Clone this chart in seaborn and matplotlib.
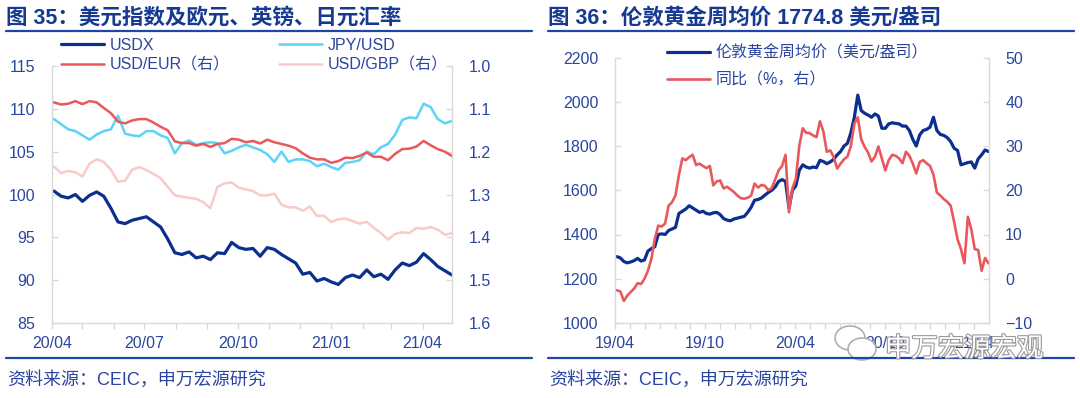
import numpy as np
import pandas as pd
import matplotlib
matplotlib.use("Agg")
import matplotlib.pyplot as plt
import matplotlib.patheffects as pe
from matplotlib.lines import Line2D
from matplotlib.patches import Ellipse
import seaborn as sns

# ---------------- data ----------------
fx_weeks = pd.date_range("2020-04-03", periods=57, freq="7D")
usdx = [100.4, 99.8, 99.6, 100.0, 99.2, 99.9, 100.3, 99.8, 98.4, 96.8,
        96.6, 97.0, 97.2, 97.4, 96.8, 96.2, 94.8, 93.2, 93.0, 93.3,
        92.6, 92.8, 92.4, 93.2, 93.1, 94.4, 93.8, 93.6, 93.7, 92.8,
        93.8, 93.6, 93.0, 92.5, 92.0, 90.7, 90.9, 89.9, 90.2, 89.8,
        89.5, 90.3, 90.6, 90.3, 91.2, 90.4, 90.7, 90.1, 91.2, 92.0,
        91.7, 92.1, 93.1, 92.4, 91.6, 91.1, 90.6]
jpy_usd = [108.8, 108.2, 107.6, 107.4, 106.9, 106.4, 107.0, 107.4, 107.6, 109.2,
           107.1, 106.9, 106.8, 107.4, 107.4, 106.9, 106.6, 104.8, 106.0, 106.3,
           105.8, 106.0, 106.1, 106.0, 104.8, 105.1, 105.5, 105.8, 105.5, 105.2,
           104.7, 103.8, 105.0, 103.8, 104.1, 104.1, 103.9, 103.3, 103.6, 103.2,
           102.9, 103.7, 103.8, 104.0, 105.0, 104.7, 105.5, 105.9, 107.0, 108.7,
           109.0, 108.9, 110.6, 110.2, 108.8, 108.3, 108.6]
usd_eur = [1.085, 1.090, 1.088, 1.082, 1.089, 1.082, 1.085, 1.098, 1.110, 1.130,
           1.134, 1.127, 1.124, 1.124, 1.132, 1.142, 1.150, 1.176, 1.180, 1.180,
           1.186, 1.182, 1.189, 1.182, 1.180, 1.170, 1.172, 1.178, 1.175, 1.181,
           1.172, 1.178, 1.182, 1.186, 1.192, 1.204, 1.214, 1.218, 1.218, 1.226,
           1.222, 1.214, 1.215, 1.210, 1.202, 1.212, 1.212, 1.220, 1.205, 1.194,
           1.193, 1.188, 1.175, 1.185, 1.194, 1.200, 1.210]
usd_gbp = [1.235, 1.250, 1.245, 1.248, 1.258, 1.228, 1.218, 1.224, 1.242, 1.270,
           1.268, 1.242, 1.236, 1.243, 1.252, 1.262, 1.282, 1.302, 1.305, 1.308,
           1.310, 1.318, 1.332, 1.282, 1.274, 1.272, 1.284, 1.288, 1.292, 1.302,
           1.302, 1.298, 1.324, 1.330, 1.330, 1.338, 1.328, 1.350, 1.350, 1.364,
           1.358, 1.356, 1.362, 1.368, 1.364, 1.378, 1.390, 1.405, 1.392, 1.388,
           1.390, 1.378, 1.380, 1.376, 1.382, 1.394, 1.390]
fx_labels = ["USDX", "USD/EUR（右）", "JPY/USD", "USD/GBP（右）"]
fx_tick_labels = ["20/04", "20/07", "20/10", "21/01", "21/04"]

gold_weeks = pd.date_range("2019-04-05", periods=109, freq="7D")
gold_price = [1300, 1294, 1278, 1272, 1276, 1282, 1292, 1280, 1285, 1325,
              1336, 1345, 1400, 1403, 1400, 1418, 1425, 1432, 1495, 1505,
              1515, 1530, 1520, 1510, 1500, 1505, 1495, 1492, 1498, 1500,
              1490, 1472, 1465, 1462, 1470, 1474, 1478, 1482, 1500, 1523,
              1555, 1558, 1565, 1578, 1590, 1600, 1615, 1640, 1648, 1640,
              1520, 1600, 1620, 1690, 1715, 1705, 1700, 1705, 1702, 1735,
              1730, 1720, 1728, 1740, 1760, 1775, 1800, 1812, 1860, 1930,
              2030, 1960, 1948, 1940, 1930, 1945, 1935, 1880, 1880, 1900,
              1905, 1902, 1900, 1890, 1890, 1870, 1830, 1800, 1850, 1870,
              1875, 1885, 1930, 1870, 1852, 1848, 1838, 1820, 1790, 1780,
              1715, 1720, 1725, 1728, 1700, 1742, 1760, 1782, 1775]
gold_yoy = [-2.6, -2.9, -5.0, -3.8, -3.0, -2.2, -1.0, -1.2, 0.0, 1.8,
            4.5, 9.0, 12.0, 11.8, 12.5, 16.5, 17.3, 18.8, 23.4, 27.2,
            26.8, 27.5, 28.0, 25.7, 26.0, 25.5, 25.0, 25.5, 21.1, 22.0,
            22.2, 20.4, 20.8, 20.2, 19.6, 18.8, 18.2, 18.1, 18.3, 18.8,
            21.5, 20.6, 21.2, 21.0, 20.0, 20.5, 22.5, 24.5, 25.5, 28.0,
            15.0, 20.4, 22.6, 30.0, 34.0, 33.0, 32.9, 32.4, 32.0, 35.6,
            33.3, 28.7, 29.0, 27.5, 24.9, 26.0, 27.0, 27.6, 30.0, 35.0,
            36.5, 31.5, 29.8, 28.5, 26.5, 27.6, 29.9, 27.2, 24.5, 26.8,
            28.0, 27.8, 27.2, 26.1, 28.7, 27.8, 26.0, 23.8, 26.4, 26.8,
            26.1, 25.5, 23.5, 19.5, 18.8, 18.0, 17.4, 16.5, 12.9, 8.9,
            6.7, 3.5, 14.0, 11.2, 6.7, 6.5, 1.8, 4.7, 3.5]
gold_labels = ["伦敦黄金周均价（美元/盎司）", "同比（%，右）"]
gold_tick_labels = ["19/04", "19/10", "20/04", "20/10", "21/04"]

titles = ["图 35：美元指数及欧元、英镑、日元汇率", "图 36：伦敦黄金周均价 1774.8 美元/盎司"]
source = "资料来源：CEIC，申万宏源研究"
watermark = "申万宏源宏观"

# ---------------- style ----------------
sns.set_theme(style="white")
plt.rcParams["font.family"] = ["Liberation Sans", "Noto Sans CJK SC"]

NAVY = "#0B2F8E"
CYAN = "#5CD3F7"
RED = "#E8585C"
PINK = "#F8CACA"
TXT = "#2A45A0"
TITLE = "#163A92"
SPINE = "#D9D9D9"
W, H = 1080, 398

fig = plt.figure(figsize=(W / 100, H / 100), dpi=100)


def fx(px):
    return px / W


def fy(py):
    return 1 - py / H


def style_axes(ax, ax2, xlo, xhi, ticks, labels):
    for a in (ax, ax2):
        a.set_xlabel("")
        a.set_ylabel("")
        a.spines["top"].set_visible(False)
        for s in ("left", "right", "bottom"):
            a.spines[s].set_color(SPINE)
            a.spines[s].set_linewidth(1.0)
    ax.spines["right"].set_visible(False)
    ax2.spines["left"].set_visible(False)
    ax2.spines["bottom"].set_visible(False)
    ax.set_xlim(xlo, xhi)
    ax.set_xticks(ticks)
    ax.set_xticklabels(labels)
    ax.tick_params(axis="x", direction="out", length=4, color=SPINE, width=1,
                   pad=5, labelsize=11.5, labelcolor=TXT, bottom=True)
    ax.tick_params(axis="y", direction="in", length=4, color=SPINE, width=1,
                   pad=12, labelsize=11.5, labelcolor=TXT, left=True)
    ax2.tick_params(axis="y", direction="in", length=4, color=SPINE, width=1,
                    pad=12, labelsize=11.5, labelcolor=TXT, right=True)


# ---------------- left chart ----------------
axL = fig.add_axes([fx(52), fy(323), fx(452 - 52), (323 - 66) / H])
axL2 = axL.twinx()
sns.lineplot(x=fx_weeks, y=usdx, ax=axL, color=NAVY, linewidth=2.3)
sns.lineplot(x=fx_weeks, y=jpy_usd, ax=axL, color=CYAN, linewidth=1.8)
sns.lineplot(x=fx_weeks, y=usd_gbp, ax=axL2, color=PINK, linewidth=1.8)
sns.lineplot(x=fx_weeks, y=usd_eur, ax=axL2, color=RED, linewidth=1.8)
axL.set_ylim(85, 115)
axL.set_yticks(np.arange(85, 116, 5))
axL2.set_ylim(1.6, 1.0)
axL2.set_yticks(np.arange(1.0, 1.61, 0.1))
axL2.set_yticklabels([f"{v:.1f}" for v in np.arange(1.0, 1.61, 0.1)])
ticksL = pd.date_range("2020-04-01", "2021-04-01", freq="MS")
labsL = []
k = 0
for i in range(len(ticksL)):
    if i % 3 == 0:
        labsL.append(fx_tick_labels[k]); k += 1
    else:
        labsL.append("")
style_axes(axL, axL2, pd.Timestamp("2020-04-01"), pd.Timestamp("2021-04-30"), ticksL, labsL)

hL = [Line2D([], [], color=NAVY, lw=2.3), Line2D([], [], color=RED, lw=1.8),
      Line2D([], [], color=CYAN, lw=1.8), Line2D([], [], color=PINK, lw=1.8)]
legL = fig.legend(hL, fx_labels, ncol=2, loc="upper left",
                  bbox_to_anchor=(fx(61), fy(38)), frameon=False, fontsize=11.5,
                  handlelength=2.7, handletextpad=0.35, columnspacing=3.1,
                  labelspacing=0.28, borderpad=0, borderaxespad=0)
for t in legL.get_texts():
    t.set_color(TXT)

# ---------------- right chart ----------------
axR = fig.add_axes([fx(615), fy(323), fx(988.5 - 615), (323 - 57.5) / H])
axR2 = axR.twinx()
sns.lineplot(x=gold_weeks, y=gold_price, ax=axR, color=NAVY, linewidth=2.3)
sns.lineplot(x=gold_weeks, y=gold_yoy, ax=axR2, color=RED, linewidth=1.9)
axR.set_ylim(1000, 2200)
axR.set_yticks(np.arange(1000, 2201, 200))
axR2.set_ylim(-10, 50)
axR2.set_yticks(np.arange(-10, 51, 10))
ticksR = pd.date_range("2019-04-01", "2021-04-01", freq="MS")
labsR = []
k = 0
for i in range(len(ticksR)):
    if i % 6 == 0:
        labsR.append(gold_tick_labels[k]); k += 1
    else:
        labsR.append("")
style_axes(axR, axR2, pd.Timestamp("2019-04-01"), pd.Timestamp("2021-04-30"), ticksR, labsR)

hR = [Line2D([], [], color=NAVY, lw=2.3), Line2D([], [], color=RED, lw=1.9)]
legR = fig.legend(hR, gold_labels, ncol=1, loc="upper left",
                  bbox_to_anchor=(fx(667), fy(45)), frameon=False, fontsize=11.5,
                  handlelength=2.7, handletextpad=0.35, labelspacing=0.72,
                  borderpad=0, borderaxespad=0)
for t in legR.get_texts():
    t.set_color(TXT)

# ---------------- titles, rules, source ----------------
for x0, x1, title in ((6, 532, titles[0]), (548, 1074, titles[1])):
    fig.text(fx(x0), fy(18), title, fontsize=15.5, fontweight="bold",
             color=TITLE, va="center", ha="left")
    fig.add_artist(Line2D([fx(x0), fx(x1)], [fy(31), fy(31)],
                          transform=fig.transFigure, color="#1F45A8", lw=1.6))
    fig.add_artist(Line2D([fx(x0), fx(x1)], [fy(358), fy(358)],
                          transform=fig.transFigure, color="#1F45A8", lw=1.6))
    fig.text(fx(x0 + 1), fy(380), source, fontsize=13, color=TXT,
             va="center", ha="left")

# watermark
fig.text(fx(885), fy(349), watermark, fontsize=19, color="white", style="italic",
         va="center", ha="left",
         path_effects=[pe.withStroke(linewidth=1.6, foreground="#9A9A9A")])
fig.add_artist(Ellipse((fx(850), fy(338)), fx(30), 24 / H, transform=fig.transFigure,
                       facecolor="white", edgecolor="#B0B0B0", lw=1.2))
fig.add_artist(Ellipse((fx(862), fy(349)), fx(28), 22 / H, transform=fig.transFigure,
                       facecolor="white", edgecolor="#B0B0B0", lw=1.2))

fig.savefig("out.png", dpi=100)
